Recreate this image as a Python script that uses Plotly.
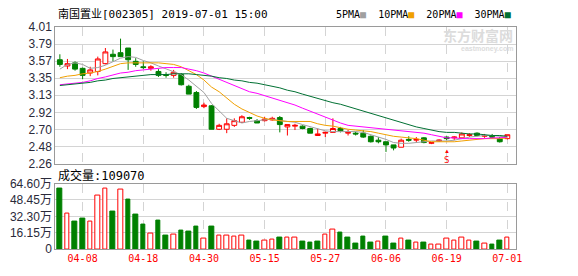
import plotly.graph_objects as go

# ---------------- data ----------------
dates = ["04-02","04-03","04-04","04-08","04-09","04-10","04-11","04-12","04-15","04-16",
         "04-17","04-18","04-19","04-22","04-23","04-24","04-25","04-26","04-29","04-30",
         "05-06","05-07","05-08","05-09","05-10","05-13","05-14","05-15","05-16","05-17",
         "05-20","05-21","05-22","05-23","05-24","05-27","05-28","05-29","05-30","05-31",
         "06-03","06-04","06-05","06-06","06-10","06-11","06-12","06-13","06-14","06-17",
         "06-18","06-19","06-20","06-21","06-24","06-25","06-26","06-27","06-28","07-01"]

opens = [3.59,3.51,3.55,3.48,3.42,3.44,3.54,3.66,3.68,3.74,
         3.57,3.50,3.48,3.44,3.40,3.39,3.40,3.25,3.17,2.99,
         3.00,2.70,2.70,2.75,2.79,2.85,2.81,2.81,2.82,2.85,
         2.73,2.74,2.74,2.71,2.62,2.65,2.66,2.71,2.65,2.65,
         2.65,2.61,2.56,2.54,2.50,2.47,2.57,2.56,2.59,2.52,
         2.55,2.60,2.59,2.59,2.62,2.65,2.61,2.61,2.58,2.58]
highs = [3.66,3.60,3.57,3.49,3.50,3.63,3.74,3.72,3.86,3.74,
         3.61,3.57,3.52,3.47,3.43,3.46,3.42,3.27,3.19,3.04,
         3.01,2.77,2.84,2.84,2.88,2.86,2.83,2.86,2.86,2.87,
         2.76,2.77,2.75,2.72,2.71,2.67,2.84,2.73,2.69,2.67,
         2.69,2.62,2.60,2.54,2.50,2.58,2.61,2.60,2.60,2.53,
         2.57,2.61,2.61,2.66,2.65,2.66,2.64,2.64,2.60,2.63]
lows  = [3.50,3.47,3.45,3.34,3.38,3.39,3.53,3.57,3.63,3.46,
         3.50,3.47,3.45,3.37,3.36,3.36,3.26,3.15,2.96,2.97,
         2.70,2.69,2.65,2.73,2.78,2.82,2.78,2.80,2.81,2.66,
         2.62,2.69,2.70,2.65,2.62,2.60,2.66,2.66,2.62,2.62,
         2.59,2.53,2.52,2.41,2.43,2.47,2.54,2.53,2.52,2.51,
         2.54,2.56,2.56,2.59,2.60,2.61,2.59,2.58,2.53,2.57]
closes = [3.53,3.54,3.47,3.39,3.46,3.60,3.69,3.63,3.63,3.59,
          3.53,3.49,3.50,3.39,3.39,3.43,3.27,3.15,2.98,3.01,
          2.70,2.75,2.77,2.81,2.86,2.84,2.78,2.83,2.84,2.76,
          2.76,2.75,2.71,2.65,2.64,2.66,2.71,2.68,2.66,2.64,
          2.60,2.54,2.54,2.50,2.46,2.56,2.56,2.57,2.53,2.53,
          2.56,2.58,2.60,2.64,2.63,2.62,2.62,2.60,2.54,2.63]

ma5 = [3.47,3.53,3.55,3.53,3.48,3.49,3.52,3.56,3.61,3.63,
       3.62,3.58,3.55,3.51,3.47,3.44,3.40,3.33,3.25,3.17,
       3.03,2.93,2.84,2.81,2.78,2.80,2.81,2.82,2.83,2.81,
       2.80,2.79,2.76,2.73,2.70,2.68,2.67,2.67,2.67,2.67,
       2.66,2.63,2.60,2.57,2.53,2.52,2.52,2.53,2.54,2.55,
       2.55,2.55,2.56,2.58,2.60,2.61,2.62,2.62,2.61,2.60]
ma10 = [3.36,3.38,3.39,3.41,3.42,3.44,3.47,3.51,3.54,3.55,
        3.55,3.55,3.55,3.55,3.54,3.53,3.50,3.45,3.40,3.33,
        3.24,3.18,3.10,3.02,2.96,2.91,2.87,2.84,2.82,2.81,
        2.80,2.80,2.80,2.80,2.77,2.75,2.74,2.72,2.70,2.69,
        2.68,2.67,2.65,2.63,2.61,2.60,2.59,2.58,2.56,2.54,
        2.54,2.54,2.54,2.55,2.56,2.57,2.58,2.58,2.58,2.59]
ma20 = [3.27,3.28,3.29,3.30,3.32,3.35,3.37,3.40,3.42,3.43,
        3.45,3.46,3.47,3.48,3.49,3.49,3.49,3.47,3.45,3.42,
        3.38,3.34,3.29,3.25,3.21,3.18,3.16,3.13,3.10,3.07,
        3.04,3.01,2.97,2.93,2.89,2.85,2.82,2.78,2.75,2.74,
        2.73,2.72,2.71,2.70,2.69,2.68,2.67,2.66,2.65,2.63,
        2.61,2.59,2.59,2.58,2.58,2.58,2.58,2.59,2.59,2.60]
ma30 = [3.26,3.27,3.28,3.29,3.30,3.32,3.33,3.35,3.36,3.37,
        3.38,3.39,3.40,3.40,3.40,3.41,3.41,3.41,3.40,3.39,
        3.38,3.36,3.35,3.33,3.32,3.30,3.29,3.27,3.25,3.23,
        3.20,3.18,3.15,3.12,3.10,3.07,3.04,3.02,2.99,2.96,
        2.93,2.90,2.87,2.85,2.81,2.79,2.76,2.73,2.71,2.69,
        2.67,2.66,2.66,2.65,2.64,2.64,2.63,2.62,2.62,2.61]

# volume in 万 (10k) units
volumes = [59.9,35.3,27.1,30.0,26.8,53.0,59.6,36.5,58.7,48.7,
           33.7,24.3,15.6,28.1,13.1,14.7,17.8,16.8,22.5,10.0,
           22.5,13.7,13.1,12.2,13.1,8.4,7.5,8.4,9.0,11.2,
           10.9,10.9,7.8,6.6,7.5,14.0,19.7,16.2,11.2,5.6,
           12.2,6.6,7.2,12.5,5.6,10.3,8.4,6.2,6.6,4.7,
           4.7,10.3,8.4,10.9,8.4,7.5,5.3,4.7,8.4,10.907]
# 1 = up day (red), 0 = down day (green) for volume bars
vol_up = [0,1,0,0,1,1,1,0,1,0,
          0,0,1,0,0,1,0,0,0,1,
          0,1,1,1,1,0,0,1,1,0,
          1,1,0,0,0,1,1,0,0,0,
          0,0,1,0,0,1,0,1,0,1,
          1,1,1,1,1,0,1,0,0,1]

price_ticks = [2.26,2.48,2.70,2.92,3.13,3.35,3.57,3.79,4.01]
price_min, price_max = 2.26, 4.01
vol_ticks = [0,16.15,32.30,48.45,64.60]
vol_ticktext = ["0","16.15万","32.30万","48.45万","64.60万"]
xtick_labels = ["04-08","04-18","04-30","05-15","05-27","06-06","06-19","07-01"]
signal_date = "06-19"
last_volume = "109070"
title_text = "南国置业[002305] 2019-07-01 15:00"

# ---------------- styling ----------------
W, H = 578, 276
RED = "#ff0000"
GREEN = "#008000"
GRID = "#d4d4d4"
BORDER = "#9a9a9a"
MA_COLORS = {"5PMA": "#a0a0a0", "10PMA": "#f0a000", "20PMA": "#ff00ff", "30PMA": "#007033"}
MONO = "DejaVu Sans Mono, Noto Sans CJK SC"
SANS = "Liberation Sans, Arial, Noto Sans CJK SC"

x = list(range(len(dates)))
tick_idx = [dates.index(d) for d in xtick_labels]
n = len(dates)
step = (price_max - price_min) / (len(price_ticks) - 1)
tickvals_p = [price_min + k * step for k in range(len(price_ticks))]

px_left, px_right = 56, 522
main_top, main_bot = 21, 165
vol_top, vol_bot = 186, 255
xdom = [px_left / W, px_right / W]

fig = go.Figure()

fig.add_trace(go.Candlestick(
    x=x, open=opens, high=highs, low=lows, close=closes,
    increasing=dict(line=dict(color=RED, width=1), fillcolor="#ffffff"),
    decreasing=dict(line=dict(color=GREEN, width=1), fillcolor=GREEN),
    whiskerwidth=0, xaxis="x", yaxis="y", showlegend=False, hoverinfo="skip"))

for name, vals in [("5PMA", ma5), ("10PMA", ma10), ("20PMA", ma20), ("30PMA", ma30)]:
    fig.add_trace(go.Scatter(x=x, y=vals, mode="lines",
                             line=dict(color=MA_COLORS[name], width=1),
                             xaxis="x", yaxis="y", showlegend=False, hoverinfo="skip"))

fig.add_trace(go.Bar(
    x=x, y=volumes, width=0.6,
    marker=dict(color=["#ffffff" if u else GREEN for u in vol_up],
                line=dict(color=[RED if u else GREEN for u in vol_up], width=1)),
    xaxis="x2", yaxis="y2", showlegend=False, hoverinfo="skip"))

xr = [-0.6, n - 1 + 1.1]
common_x = dict(range=xr, tickmode="array", tickvals=tick_idx, showgrid=True,
                gridcolor=GRID, griddash="dash", gridwidth=1, zeroline=False,
                showline=True, mirror=True, linecolor=BORDER, linewidth=1,
                ticks="", fixedrange=True)
fig.update_layout(
    width=W, height=H, margin=dict(l=0, r=0, t=0, b=0),
    paper_bgcolor="#ffffff", plot_bgcolor="#ffffff",
    boxgap=0.2, boxgroupgap=0.2, bargap=0,
    xaxis=dict(domain=xdom, anchor="y", showticklabels=False,
               rangeslider=dict(visible=False), **common_x),
    yaxis=dict(domain=[1 - main_bot / H, 1 - main_top / H], range=[price_min, price_max],
               tickmode="array", tickvals=tickvals_p,
               ticktext=["%.2f" % v for v in price_ticks],
               showgrid=True, gridcolor=GRID, gridwidth=1, zeroline=False,
               showline=True, mirror=True, linecolor=BORDER, ticks="",
               tickfont=dict(family=SANS, size=12, color="#2a2a3a")),
    xaxis2=dict(domain=xdom, anchor="y2", showticklabels=True,
                ticktext=xtick_labels,
                tickfont=dict(family=MONO, size=10, color=RED), **common_x),
    yaxis2=dict(domain=[1 - vol_bot / H, 1 - vol_top / H], range=[0, vol_ticks[-1]],
                tickmode="array", tickvals=vol_ticks, ticktext=vol_ticktext,
                showgrid=True, gridcolor=GRID, gridwidth=1, zeroline=False,
                showline=True, mirror=True, linecolor=BORDER, ticks="",
                tickfont=dict(family=SANS, size=12, color="#2a2a3a")),
)

ann = []
ann.append(dict(text=title_text, x=57 / W, y=1 - 8 / H, xref="paper", yref="paper",
                xanchor="left", yanchor="middle", showarrow=False,
                font=dict(family=MONO, size=11, color="#000000")))
legend_html = "  ".join(
    f"{k}<span style='color:{c}'>■</span>" for k, c in MA_COLORS.items())
ann.append(dict(text=legend_html, x=338 / W, y=1 - 8 / H, xref="paper", yref="paper",
                xanchor="left", yanchor="middle", showarrow=False,
                font=dict(family=MONO, size=10, color="#000000")))
ann.append(dict(text="成交量:" + last_volume, x=57 / W, y=1 - 177 / H,
                xref="paper", yref="paper", xanchor="left", yanchor="middle",
                showarrow=False, font=dict(family=MONO, size=12, color="#000000")))
# watermark
ann.append(dict(text="<b>东方财富网</b>", x=521 / W, y=1 - 29 / H, xref="paper", yref="paper",
                xanchor="right", yanchor="middle", showarrow=False,
                font=dict(family="Noto Sans CJK SC", size=14, color="#dcdcdc")))
ann.append(dict(text="<b>eastmoney.com</b>", x=521 / W, y=1 - 44 / H, xref="paper",
                yref="paper", xanchor="right", yanchor="middle", showarrow=False,
                font=dict(family=SANS, size=7, color="#dcdcdc")))
# signal marker
sig_i = dates.index(signal_date)
ann.append(dict(text="▲", x=sig_i, y=price_min + 0.165, xref="x", yref="y",
                xanchor="center", yanchor="middle", showarrow=False,
                font=dict(family=SANS, size=6, color=RED)))
ann.append(dict(text="S", x=sig_i, y=price_min + 0.05, xref="x", yref="y",
                xanchor="center", yanchor="middle", showarrow=False,
                font=dict(family=MONO, size=9, color=RED)))
fig.update_layout(annotations=ann)

fig.write_html("out.html")
